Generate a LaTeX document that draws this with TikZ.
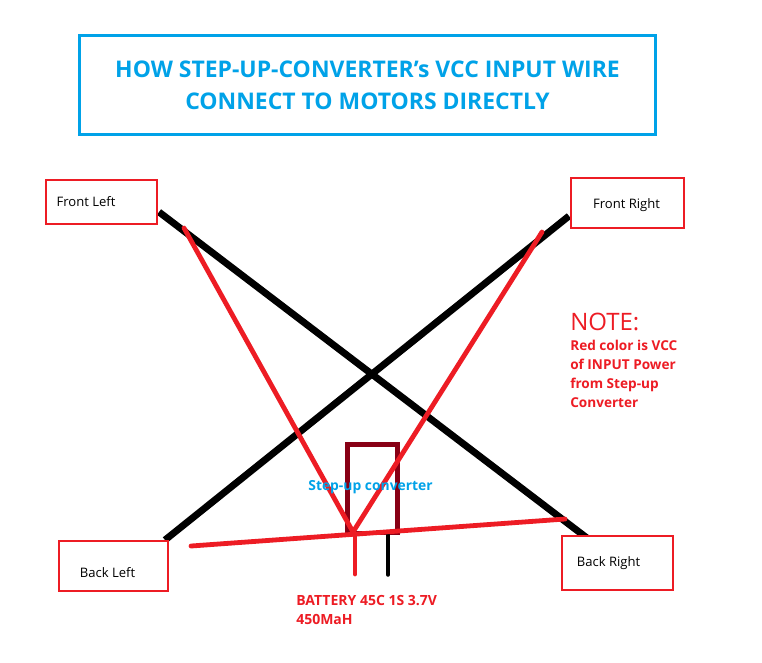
\documentclass[tikz,border=0pt]{standalone}
\usepackage{fontspec}
\setmainfont{Open Sans}
\usepackage{xcolor}
\definecolor{paintred}{HTML}{ED1C24}
\definecolor{paintblue}{HTML}{00A2E8}
\definecolor{paintdark}{HTML}{880015}
\tikzset{
  px/.style = {x=0.75pt, y=-0.75pt},
  motor/.style = {draw=paintred, line width=2.2pt, fill=white, inner sep=0pt, outer sep=0pt},
  motorlabel/.style = {font=\fontsize{9.8}{11}\selectfont, inner sep=0pt, text=black},
  redtext/.style = {font=\fontsize{10.2}{14.3}\selectfont\bfseries, text=paintred, inner sep=0pt, align=left},
  blackwire/.style = {draw=black, line width=5.2pt},
  redwire/.style = {draw=paintred, line width=3.6pt, line cap=round}
}

\begin{document}
\begin{tikzpicture}[px]
	\useasboundingbox (0,0) rectangle (762,662);
	\fill[white] (0,0) rectangle (762,662);

	% Title
	\node[draw=paintblue, line width=2pt, minimum width=576*0.75pt, minimum height=99*0.75pt,
		inner sep=0pt, align=center, text=paintblue, font=\fontsize{17.2}{24}\selectfont\bfseries] (title) at (367.5,85)
		{\raisebox{-3.5pt}{HOW STEP-UP-CONVERTER's VCC INPUT WIRE}\\\raisebox{-3.5pt}{CONNECT TO MOTORS DIRECTLY}};

	% Wire ends
	\coordinate (flend) at (159,212);
	\coordinate (brend) at (587,538);
	\coordinate (frend) at (569,216);
	\coordinate (blend) at (165,540);
	\coordinate (flred) at (184,228);
	\coordinate (frred) at (542,232);
	\coordinate (joint) at (353,532);
	\coordinate (railleft) at (191,546);
	\coordinate (railright) at (565,519);
	\coordinate (vcctop) at (355,534);
	\coordinate (vccend) at (355,574);
	\coordinate (gndtop) at (388,534);
	\coordinate (gndend) at (388,575);

	% Frame wires
	\draw[blackwire] (flend) -- (brend);
	\draw[blackwire] (frend) -- (blend);

	% Converter
	\node[draw=paintdark, line width=3.4pt, minimum width=50*0.75pt, minimum height=88.5*0.75pt,
		inner sep=0pt] (converter) at (372.5,488.7) {};
	\draw[draw=black, line width=2.6pt, line cap=round] (gndtop) -- (gndend);

	% Red wires
	\draw[redwire] (flred) -- (joint);
	\draw[redwire] (frred) -- (joint);
	\draw[redwire] (railleft) -- (railright);
	\draw[redwire] (vcctop) -- (vccend);

	% Motors
	\node[motor, minimum width=111*0.75pt, minimum height=44*0.75pt] (frontleft) at (101.5,202) {};
	\node[motor, minimum width=113*0.75pt, minimum height=50*0.75pt] (frontright) at (627.5,203) {};
	\node[motor, minimum width=109*0.75pt, minimum height=50*0.75pt] (backleft) at (113.5,566) {};
	\node[motor, minimum width=111*0.75pt, minimum height=54*0.75pt] (backright) at (617.5,563) {};

	\node[motorlabel] (frontlefttext) at (86,201.5) {Front Left};
	\node[motorlabel] (frontrighttext) at (626.5,205) {Front Right};
	\node[motorlabel] (backlefttext) at (107.5,572.5) {Back Left};
	\node[motorlabel] (backrighttext) at (608.5,563) {Back Right};

	% Labels
	\node[font=\fontsize{10.4}{12}\selectfont\bfseries, text=paintblue, inner sep=0pt] (convertertext) at (370.5,487.5) {Step-up converter};
	\node[redtext, font=\fontsize{10.5}{14.3}\selectfont\bfseries, anchor=north west] (battery) at (296,595.5) {BATTERY 45C 1S 3.7V\\450MaH};

	% Note
	\node[font=\fontsize{18}{22}\selectfont, text=paintred, inner sep=0pt, anchor=west] (note) at (570,322) {NOTE:};
	\node[redtext, anchor=north west] (notetext) at (570,340)
		{Red color is VCC\\of INPUT Power\\from Step-up\\Converter};
\end{tikzpicture}
\end{document}
